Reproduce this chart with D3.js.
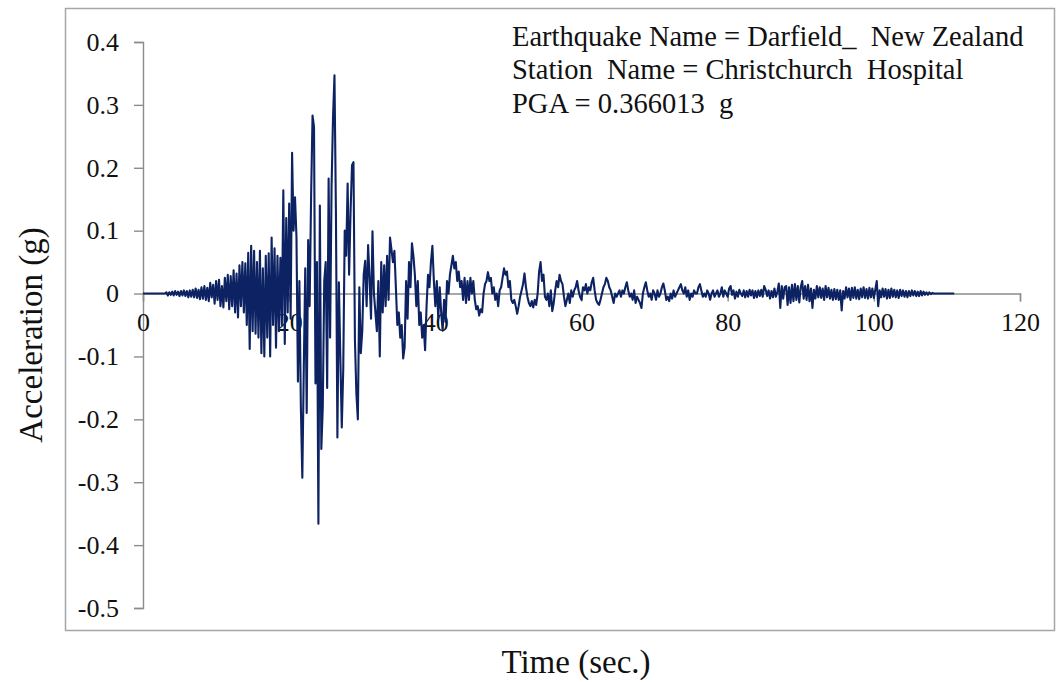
<!DOCTYPE html>
<html>
<head>
<meta charset="utf-8">
<script src="https://cdn.jsdelivr.net/npm/d3@7"></script>
<style>
  body { margin: 0; background: #fff; }
  svg text { font-family: "Liberation Serif", "Times New Roman", serif; fill: #111; }
</style>
</head>
<body>
<script>
//chart data
var timeStep = 0.2; //seconds between samples, record starts at t = 0
var accel = [
  0,0,0,0,0, 0,0,0,0,0, 0,0,0,0,0,
  0,0.002,-0.003,0.002,-0.002, 0.003,-0.003,0.004,-0.002,0.003,
  -0.004,0.004,-0.003,0.005,-0.004, 0.004,-0.006,0.005,-0.005,0.006,
  -0.006,0.008,-0.007,0.006,-0.009, 0.01,-0.008,0.012,-0.01,0.009,
  -0.012,0.017,-0.006,0.014,-0.016, 0.02,-0.01,0.022,-0.02,0.012,
  -0.022,0.025,-0.012,0.03,-0.025, 0.028,-0.02,0.037,-0.03,0.032,
  -0.038,0.045,-0.02,0.05,-0.03, 0.048,-0.05,0.065,-0.088,0.076,
  -0.06,0.068,-0.064,0.05,-0.07, 0.068,-0.095,0.04,-0.1,0.06,
  -0.07,0.064,-0.1,0.089,-0.05, 0.072,-0.086,0.06,-0.06,0.057,
  -0.05,0.164,-0.08,0.12,-0.03, 0.143,-0.04,0.224,0.1,0.153,
  0.09,-0.14,0.02,-0.18,-0.293, -0.12,0.04,-0.19,0.085,-0.02,
  0.153,0.283,0.265,-0.143,0.05, -0.366,0.14,-0.247,-0.18,0.02,
  0.05,-0.15,0.183,-0.07,0.169, 0.279,0.347,0.127,-0.229,0.018,
  -0.1,-0.213,-0.12,0.1,0.06, 0.175,0.03,0.13,0.204,0.209,
  -0.075,-0.16,-0.2,0.01,-0.095, -0.06,0.03,0.052,-0.02,0.077,
  0.025,-0.04,0.099,0,-0.03, -0.06,0.02,-0.1,0.05,-0.03,
  0.045,-0.02,0.06,-0.01,0.089, 0.07,0.05,0.068,0.01,-0.05,
  -0.03,-0.07,-0.05,-0.103,-0.085, 0.02,-0.04,0.05,0.01,0.08,
  0.06,0.03,-0.02,0.02,-0.05, -0.03,-0.07,-0.05,-0.09,-0.02,
  0.03,0.01,0.05,0.076,0.02, -0.02,0.02,-0.04,0.01,-0.03,
  -0.059,-0.01,-0.045,0.02,0, 0.03,0.045,0.06,0.04,0.05,
  0.02,0.035,0.01,0.02,-0.01, 0.025,-0.015,0.02,-0.01,0.025,
  0,0.02,-0.01,-0.025,-0.02, -0.035,-0.025,-0.03,0,0.015,
  0.02,0.034,0.02,0.025,0, 0.01,-0.01,0,-0.02,0.005,
  0.01,0.025,0.04,0.03,0.035, 0.01,0.02,-0.01,-0.015,-0.01,
  -0.02,-0.032,-0.02,-0.005,0.005, 0.015,0.032,0.01,-0.005,-0.015,
  -0.02,-0.012,-0.022,-0.01,-0.018, 0,0.035,0.05,0.02,0.03,
  -0.005,-0.01,0,-0.02,0.005, -0.028,-0.015,0.005,0.02,0.01,
  0.03,0.02,0.015,-0.005,-0.02, -0.01,0,-0.015,0.005,-0.005,
  0.005,0.01,0.02,0.005,-0.005, -0.01,0.01,0.005,0.015,0,
  0.01,0.005,0.018,0.025,0.005, -0.01,-0.015,-0.018,-0.01,0,
  0.01,0.015,0.025,0.02,0.01, 0.005,-0.005,-0.015,0,-0.005,
  0,0.005,-0.005,0.005,0, 0.01,0.018,0.005,-0.005,0,
  -0.01,0.005,-0.015,-0.005,-0.01, -0.015,-0.023,0,0.01,0.018,
  0.005,-0.005,0,-0.01,0.005, 0,-0.01,0.005,-0.005,0,
  0.01,0.016,0.005,-0.01,-0.005, -0.012,0,-0.008,0.005,-0.005,
  0,0.005,0.01,0.015,0.005, 0,0.01,-0.005,0.005,-0.01,
  0,-0.005,0.005,0,0, 0.01,0.015,0.005,-0.005,0,
  -0.005,0.005,0,-0.01,0, 0.005,-0.005,0,0.005,-0.005,
  0,0.01,-0.005,0.005,0, -0.005,0.008,0.012,-0.002,0.005,
  -0.008,0.003,-0.005,0.006,0, -0.004,0.005,-0.006,0.004,-0.005,
  0.006,-0.003,0.005,-0.007,0.004, -0.006,0.005,-0.004,0.006,-0.005,
  0.012,0.006,-0.004,0.005,-0.008, 0.004,-0.006,0.008,-0.005,0.003,
  0.016,-0.023,0.012,-0.008,0.01, 0.012,-0.018,0.01,-0.015,0.014,
  -0.012,0.015,-0.01,0.012,-0.014, 0.01,0.02,-0.008,0.012,-0.01,
  0.014,-0.012,0.008,-0.023,0.006, -0.008,0.012,-0.006,0.01,-0.007,
  0.008,-0.01,0.012,-0.006,0.009, -0.008,0.006,-0.01,0.007,-0.009,
  0.006,-0.01,0.005,-0.027,0.004, -0.008,0.01,-0.006,0.008,-0.01,
  0.009,-0.007,0.01,-0.008,0.006, -0.009,0.008,-0.006,0.01,-0.007,
  0.007,-0.008,0.009,-0.006,0.008, -0.007,0.006,0.02,-0.02,0.005,
  -0.006,0.008,-0.005,0.007,-0.008, 0.006,-0.007,0.008,-0.005,0.006,
  -0.006,0.005,-0.007,0.006,-0.004, 0.005,-0.005,0.004,-0.006,0.004,
  -0.004,0.005,-0.003,0.004,-0.004, 0.003,-0.004,0.004,-0.003,0.003,
  -0.002,0.002,-0.002,0.002,-0.001, 0.001,0,0,0,0,
  0,0,0,0,0, 0,0,0,0,0,
  0
];
var xTicks = [0, 20, 40, 60, 80, 100, 120];
var yTicks = [0.4, 0.3, 0.2, 0.1, 0, -0.1, -0.2, -0.3, -0.4, -0.5];
var infoLines = [
  "Earthquake Name = Darfield_  New Zealand",
  "Station  Name = Christchurch  Hospital",
  "PGA = 0.366013  g"
];
var xTitle = "Time (sec.)";
var yTitle = "Acceleration (g)";

window.onload = setChart();

function setChart(){
    var width = 1056,
        height = 682;
    var svg = d3.select("body")
        .append("svg")
        .attr("width", width)
        .attr("height", height);

    //outer chart frame
    svg.append("rect")
        .attr("x", 65.5)
        .attr("y", 8.5)
        .attr("width", 989)
        .attr("height", 622)
        .attr("fill", "none")
        .attr("stroke", "#a6a6a6")
        .attr("stroke-width", 1.5);

    var x = d3.scaleLinear()
        .domain([0, 120])
        .range([143, 1020]);
    var y = d3.scaleLinear()
        .domain([-0.5, 0.4])
        .range([608, 42]);

    //y axis
    var yAxis = svg.append("g")
        .attr("transform", "translate(" + x(0) + ",0)")
        .call(d3.axisLeft(y)
            .tickValues(yTicks)
            .tickSize(9)
            .tickPadding(15)
            .tickFormat(function(d){ return String(d); }));
    styleAxis(yAxis);

    //x axis sits on zero
    var xAxis = svg.append("g")
        .attr("transform", "translate(0," + y(0) + ")")
        .call(d3.axisBottom(x)
            .tickValues(xTicks)
            .tickSize(8)
            .tickPadding(11)
            .tickFormat(function(d){ return String(d); }));
    styleAxis(xAxis);

    //acceleration record
    var line = d3.line()
        .x(function(d, i){ return x(i * timeStep); })
        .y(function(d){ return y(d); });
    svg.append("path")
        .datum(accel)
        .attr("fill", "none")
        .attr("stroke", "#0c2262")
        .attr("stroke-width", 2.1)
        .attr("stroke-linejoin", "round")
        .attr("d", line);

    //info box text
    svg.selectAll(".info")
        .data(infoLines)
        .enter()
        .append("text")
        .attr("class", "info")
        .attr("x", 512)
        .attr("y", function(d, i){ return 46 + i * 33.3; })
        .style("font-size", "28.5px")
        .style("white-space", "pre")
        .text(function(d){ return d; });

    //axis titles
    svg.append("text")
        .attr("x", 576)
        .attr("y", 673)
        .attr("text-anchor", "middle")
        .style("font-size", "33px")
        .text(xTitle);
    svg.append("text")
        .attr("transform", "translate(42,335) rotate(-90)")
        .attr("text-anchor", "middle")
        .style("font-size", "33px")
        .text(yTitle);
};

function styleAxis(g){
    g.select(".domain")
        .attr("stroke", "#8c8c8c")
        .attr("stroke-width", 1.4);
    g.selectAll(".tick line")
        .attr("stroke", "#8c8c8c")
        .attr("stroke-width", 1.4);
    g.selectAll(".tick text")
        .style("font-size", "26px")
        .style("fill", "#111");
};
</script>
</body>
</html>
